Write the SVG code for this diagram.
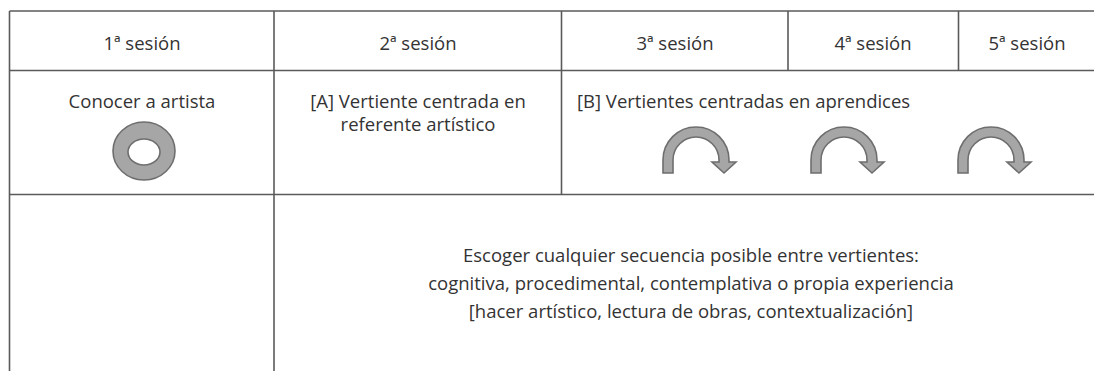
<svg xmlns="http://www.w3.org/2000/svg" width="1094" height="371" viewBox="0 0 1094 371">
<style>
.grid line{stroke:#5a5a5a;stroke-width:1.6;fill:none}
.t{font-family:"Open Sans","Noto Sans",sans-serif;font-size:18.5px;fill:#333}
.c{text-anchor:middle}
.shape{fill:#a6a6a6;stroke:#6e6e6e;stroke-width:1.6;stroke-linejoin:miter}
</style>
<defs>
<path id="carrow" d="M0,173 L0,160 A33,33 0 0 1 66,160 L66,162 L73,162 L61,173 L49,162 L56,162 L56,160 A23,23 0 0 0 10,160 L10,173 Z"/>
</defs>
<rect width="1094" height="371" fill="#fff"/>
<g id="grid" class="grid">
<line x1="9.5" y1="11" x2="1094" y2="11"/>
<line x1="9.5" y1="70.5" x2="1094" y2="70.5"/>
<line x1="9.5" y1="194.5" x2="1094" y2="194.5"/>
<line x1="9.5" y1="11" x2="9.5" y2="371"/>
<line x1="274" y1="11" x2="274" y2="371"/>
<line x1="561.5" y1="11" x2="561.5" y2="194.5"/>
<line x1="788" y1="11" x2="788" y2="70.5"/>
<line x1="958.5" y1="11" x2="958.5" y2="70.5"/>
</g>
<g id="header1"><text class="t c" x="142" y="50">1ª sesión</text></g>
<g id="header2"><text class="t c" x="418" y="50">2ª sesión</text></g>
<g id="header3"><text class="t c" x="675" y="50">3ª sesión</text></g>
<g id="header4"><text class="t c" x="873" y="50">4ª sesión</text></g>
<g id="header5"><text class="t c" x="1027" y="50">5ª sesión</text></g>
<g id="cell-artista">
<text class="t c" x="142" y="108">Conocer a artista</text>
<path class="shape" fill-rule="evenodd" d="M113,151 A31,29 0 1 0 175,151 A31,29 0 1 0 113,151 Z M128,152 A16,13 0 1 0 160,152 A16,13 0 1 0 128,152 Z"/>
</g>
<g id="cell-A">
<text class="t c" x="418" y="108">[A] Vertiente centrada en</text>
<text class="t c" x="418" y="131">referente artístico</text>
</g>
<g id="cell-B">
<text class="t" x="577" y="108">[B] Vertientes centradas en aprendices</text>
<use href="#carrow" class="shape" x="663" y="0"/>
<use href="#carrow" class="shape" x="811" y="0"/>
<use href="#carrow" class="shape" x="958" y="0"/>
</g>
<g id="cell-secuencia">
<text class="t c" x="691" y="262">Escoger cualquier secuencia posible entre vertientes:</text>
<text class="t c" x="691" y="290">cognitiva, procedimental, contemplativa o propia experiencia</text>
<text class="t c" x="691" y="318">[hacer artístico, lectura de obras, contextualización]</text>
</g>
</svg>
